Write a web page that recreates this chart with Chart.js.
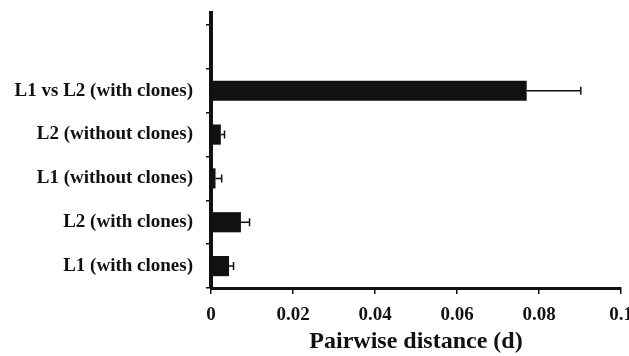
<!DOCTYPE html>
<html>
<head>
<meta charset="utf-8">
<script src="https://cdn.jsdelivr.net/npm/chart.js@4/dist/chart.umd.min.js"></script>
<style>
  html, body { margin: 0; padding: 0; background: #fff; }
  #wrap { width: 629px; height: 356px; }
</style>
</head>
<body>
<div id="wrap"><canvas id="distChart"></canvas></div>
<script>
// categories top to bottom (first slot is empty in the figure)
const groups = ['', 'L1 vs L2 (with clones)', 'L2 (without clones)', 'L1 (without clones)', 'L2 (with clones)', 'L1 (with clones)'];
const meanDist = [null, 0.077, 0.0024, 0.0011, 0.0073, 0.0044];
const errDist = [null, 0.0132, 0.0009, 0.0015, 0.0021, 0.0011];
const xTicks = [0, 0.02, 0.04, 0.06, 0.08, 0.1];

const ink = '#111111';
const serif = '"Liberation Serif", "Times New Roman", serif';

// one-sided error bars on the right of each bar
const errorBars = {
   id: 'errorBars',
   afterDatasetsDraw(chart) {
      const ctx = chart.ctx;
      const x = chart.scales.x;
      const y = chart.scales.y;
      ctx.save();
      ctx.strokeStyle = ink;
      ctx.lineWidth = 1.5;
      meanDist.forEach((v, i) => {
         if (v === null) return;
         const yc = y.getPixelForValue(i);
         const x0 = x.getPixelForValue(v);
         const x1 = x.getPixelForValue(v + errDist[i]);
         ctx.beginPath();
         ctx.moveTo(x0, yc);
         ctx.lineTo(x1, yc);
         ctx.moveTo(x1, yc - 4);
         ctx.lineTo(x1, yc + 4);
         ctx.stroke();
      });
      ctx.restore();
   }
};

// the y axis line runs a bit past the top tick
const axisTop = {
   id: 'axisTop',
   afterDraw(chart) {
      const ctx = chart.ctx;
      const a = chart.chartArea;
      ctx.save();
      ctx.strokeStyle = ink;
      ctx.lineWidth = 4;
      ctx.beginPath();
      ctx.moveTo(a.left, 11);
      ctx.lineTo(a.left, a.top + 1);
      ctx.stroke();
      ctx.restore();
   }
};

new Chart(document.getElementById('distChart'), {
   type: 'bar',
   data: {
      labels: groups,
      datasets: [{
         data: meanDist,
         backgroundColor: ink,
         borderWidth: 0,
         barPercentage: 0.46,
         categoryPercentage: 1
      }]
   },
   options: {
      indexAxis: 'y',
      responsive: true,
      maintainAspectRatio: false,
      animation: false,
      layout: { padding: { top: 25, right: 8, bottom: 0, left: 0 } },
      plugins: {
         legend: { display: false },
         tooltip: { enabled: false }
      },
      scales: {
         x: {
            min: 0,
            max: 0.1,
            afterBuildTicks: (scale) => { scale.ticks = xTicks.map(v => ({ value: v })); },
            afterFit: (scale) => {
               scale.paddingRight = 0;
               scale.paddingLeft = 0;
               scale.height = 68;
            },
            border: { color: ink, width: 3 },
            grid: { drawOnChartArea: false, color: ink, lineWidth: 1.5, tickLength: 6 },
            ticks: {
               color: ink,
               padding: 10,
               font: { family: serif, size: 19, weight: 'bold' },
               callback: (v) => String(v)
            },
            title: {
               display: true,
               text: 'Pairwise distance (d)',
               color: ink,
               padding: { top: 2, bottom: 0 },
               font: { family: serif, size: 24, weight: 'bold' }
            }
         },
         y: {
            afterFit: (scale) => { scale.width = 211; },
            border: { color: ink, width: 4 },
            grid: { offset: true, drawOnChartArea: false, color: ink, lineWidth: 1.5, tickLength: 5 },
            ticks: {
               color: ink,
               padding: 13,
               font: { family: serif, size: 19, weight: 'bold' }
            }
         }
      }
   },
   plugins: [errorBars, axisTop]
});
</script>
</body>
</html>
